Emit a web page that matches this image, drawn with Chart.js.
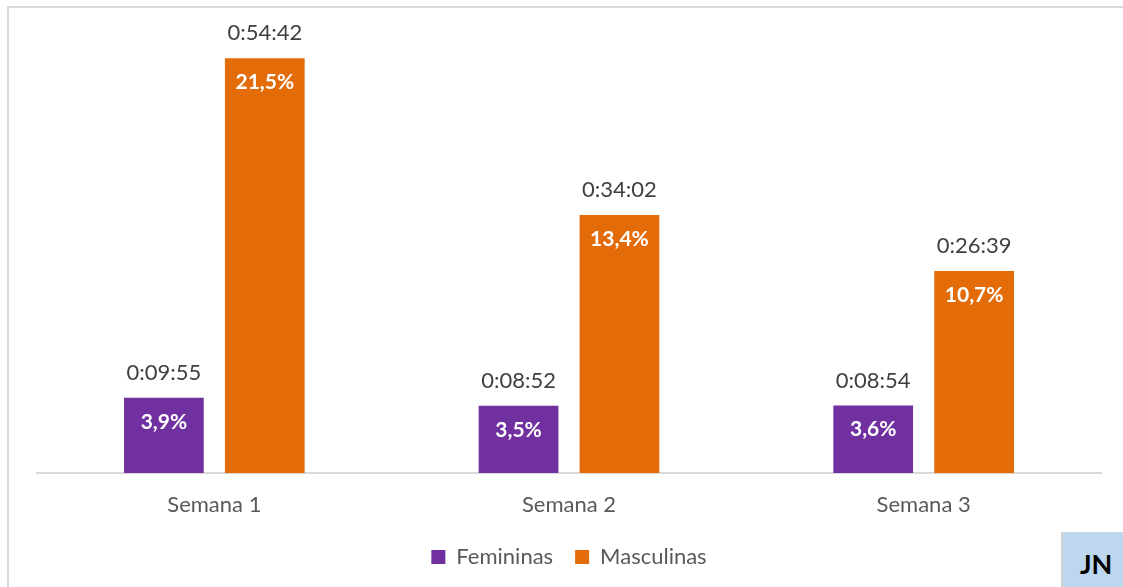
<!DOCTYPE html>
<html>
<head>
<meta charset="utf-8">
<script src="https://cdn.jsdelivr.net/npm/chart.js@4/dist/chart.umd.min.js"></script>
<style>
  html, body { margin: 0; padding: 0; background: #fff; overflow: hidden; }
  #wrap { position: absolute; left: 0; top: 0; width: 1123px; height: 587px; }
  #frame { position: absolute; left: 7px; top: 6px; width: 1200px; height: 700px;
           border: 2px solid #d9d9d9; box-sizing: border-box; }
  #tag { position: absolute; left: 1061px; top: 532px; width: 70px; height: 60px;
         background: #bdd7ee; border-left: 2px solid #d0d0d0; box-sizing: border-box;
         font: bold 27px Lato, sans-serif; color: #000; padding: 15px 0 0 17px; }
</style>
</head>
<body>
<div id="frame"></div>
<div id="wrap"><canvas id="chart"></canvas></div>
<div id="tag">JN</div>
<script>
// ── data ────────────────────────────────────────────────
const categories = ['Semana 1', 'Semana 2', 'Semana 3'];
const femTimes  = ['0:09:55', '0:08:52', '0:08:54'];
const mascTimes = ['0:54:42', '0:34:02', '0:26:39'];
const femPct  = ['3,9%', '3,5%', '3,6%'];
const mascPct = ['21,5%', '13,4%', '10,7%'];

// h:mm:ss -> seconds (bar height)
const toSec = t => t.split(':').reduce((a, v) => a * 60 + Number(v), 0);

const COLORS = { fem: '#7030a0', masc: '#e36c09', label: '#404040', axis: '#595959', line: '#d9d9d9' };

// ── labels above / inside the bars ──────────────────────
const barLabels = {
  id: 'barLabels',
  afterDatasetsDraw(chart) {
    const { ctx } = chart;
    const tops = [femTimes, mascTimes];
    const inner = [femPct, mascPct];
    ctx.save();
    ctx.textAlign = 'center';
    ctx.textBaseline = 'middle';
    chart.data.datasets.forEach((ds, di) => {
      chart.getDatasetMeta(di).data.forEach((bar, i) => {
        ctx.fillStyle = COLORS.label;
        ctx.font = '22px Lato, sans-serif';
        ctx.fillText(tops[di][i], bar.x, bar.y - 25);
        ctx.fillStyle = '#ffffff';
        ctx.font = 'bold 21px Lato, sans-serif';
        ctx.fillText(inner[di][i], bar.x, bar.y + 24);
      });
    });
    ctx.restore();
  }
};

new Chart(document.getElementById('chart'), {
  type: 'bar',
  data: {
    labels: categories,
    datasets: [
      { label: 'Femininas',  data: femTimes.map(toSec),  backgroundColor: COLORS.fem },
      { label: 'Masculinas', data: mascTimes.map(toSec), backgroundColor: COLORS.masc },
    ],
  },
  options: {
    responsive: true,
    maintainAspectRatio: false,
    animation: false,
    categoryPercentage: 0.569,
    barPercentage: 0.79,
    layout: { padding: { top: 18, left: 37, right: 22, bottom: 9 } },
    plugins: {
      legend: {
        position: 'bottom',
        labels: {
          boxWidth: 14, boxHeight: 14, padding: 22,
          color: COLORS.axis,
          font: { family: 'Lato, sans-serif', size: 22 },
        },
      },
      tooltip: { enabled: false },
    },
    scales: {
      x: {
        grid: { display: false, drawTicks: false },
        border: { color: COLORS.line, width: 2 },
        ticks: { color: COLORS.axis, padding: 19, font: { family: 'Lato, sans-serif', size: 22 } },
        afterFit: s => { s.height = 51; },
      },
      y: { display: false, min: 0, max: 3600 },
    },
  },
  plugins: [barLabels],
});
</script>
</body>
</html>
